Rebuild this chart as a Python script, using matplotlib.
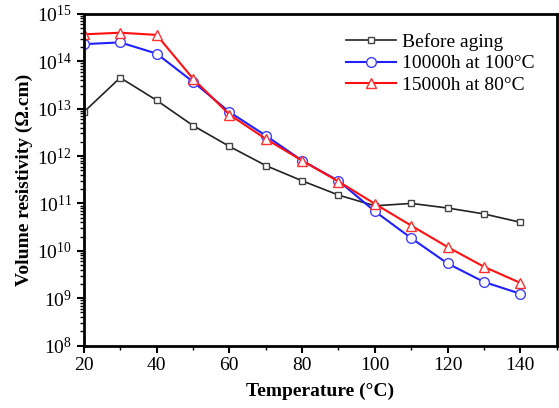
import matplotlib.pyplot as plt
from matplotlib.ticker import LogLocator, NullFormatter, MultipleLocator

temperature = [20, 30, 40, 50, 60, 70, 80, 90, 100, 110, 120, 130, 140]
before_aging = [8.5e12, 4.5e13, 1.5e13, 4.4e12, 1.6e12, 6.3e11, 3.0e11,
                1.5e11, 8.9e10, 1.0e11, 8.0e10, 6.0e10, 4.0e10]
aged_100c = [2.3e14, 2.5e14, 1.45e14, 3.7e13, 8.5e12, 2.7e12, 8.0e11,
             3.0e11, 6.8e10, 1.85e10, 5.4e9, 2.2e9, 1.24e9]
aged_80c = [3.7e14, 4.0e14, 3.6e14, 4.3e13, 7.5e12, 2.3e12, 8.0e11,
            2.9e11, 9.8e10, 3.4e10, 1.2e10, 4.6e9, 2.1e9]

plt.rcParams.update({
    "font.family": ["Liberation Serif", "DejaVu Serif"],
    "mathtext.fontset": "stix",
    "axes.linewidth": 2,
})

fig = plt.figure(figsize=(5.59, 4.08), dpi=100)
ax = fig.add_axes([0.150, 0.153, 0.846, 0.813])

ax.plot(temperature, before_aging, color="#222222", lw=1.2, marker="s", ms=4.5,
        mfc="white", mec="#444444", mew=1, label="Before aging")
ax.plot(temperature, aged_100c, color="#2020ff", lw=1.5, marker="o", ms=7,
        mfc="white", mec="#4040ff", mew=1, label="10000h at 100\u00b0C")
ax.plot(temperature, aged_80c, color="#ff1010", lw=1.5, marker="^", ms=7,
        mfc="white", mec="#ff3030", mew=1, label="15000h at 80\u00b0C")

ax.set_yscale("log")
ax.set_ylim(1e8, 1e15)
ax.set_xlim(20, 150)
ax.xaxis.set_major_locator(MultipleLocator(20))
ax.xaxis.set_minor_locator(MultipleLocator(10))
ax.yaxis.set_major_locator(LogLocator(base=10, numticks=10))
ax.yaxis.set_minor_locator(LogLocator(base=10, subs=range(2, 10), numticks=10))
ax.yaxis.set_minor_formatter(NullFormatter())
ax.set_xticks([20, 40, 60, 80, 100, 120, 140])

ax.tick_params(which="major", direction="out", length=5, width=1.5,
               labelsize=14, top=False, right=False)
ax.tick_params(which="minor", direction="out", length=3, width=1,
               top=False, right=False)

ax.set_xlabel("Temperature (\u00b0C)", fontsize=14, fontweight="bold", labelpad=6)
ax.set_ylabel("Volume resistivity (\u03a9.cm)", fontsize=14, fontweight="bold", labelpad=3)

ax.legend(loc="upper right", frameon=False, fontsize=14, handlelength=2.6,
          handletextpad=0.3, labelspacing=0.2, bbox_to_anchor=(0.99, 0.995))

fig.savefig("out.png", dpi=100)
